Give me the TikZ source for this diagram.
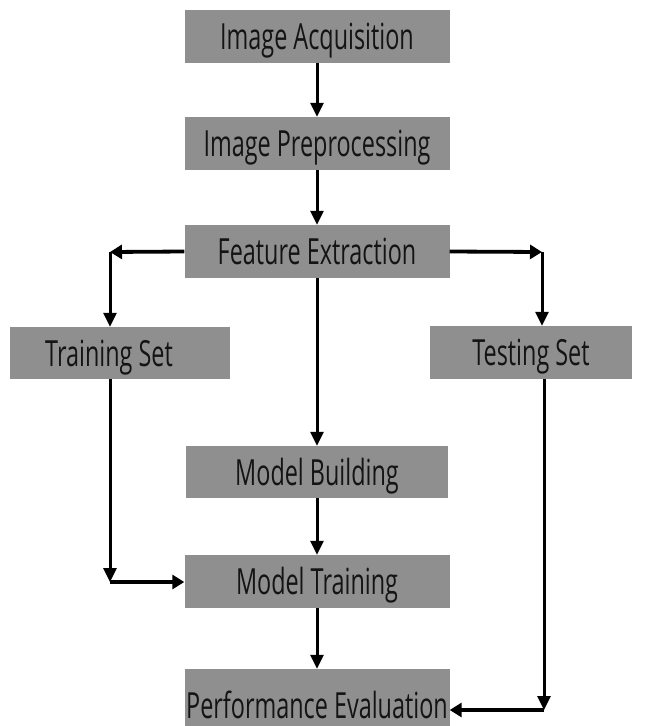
\documentclass[tikz,border=0pt]{standalone}
\usepackage{fontspec}
\setmainfont{Open Sans}[FakeStretch=0.65]
\usetikzlibrary{arrows.meta}
\definecolor{boxgray}{HTML}{8F8F8F}
\definecolor{ink}{HTML}{141414}
\begin{document}
\begin{tikzpicture}[x=1pt,y=-1pt,
  box/.style={fill=boxgray, inner sep=0pt, text=ink,
    font=\fontsize{36}{36}\selectfont, text height=26pt, text depth=0pt},
  conn/.style={line width=3pt, -{Triangle[length=14pt,width=13pt]}},
  hconn/.style={line width=3.8pt, -{Triangle[length=12pt,width=14pt]}}]
\useasboundingbox (0,0) rectangle (645,726);
\fill[white] (0,0) rectangle (645,726);

\node[box, minimum width=265pt, minimum height=53pt] (ia) at (317,36.5) {Image Acquisition};
\node[box, minimum width=265pt, minimum height=53pt] (ip) at (317,143.5) {Image Preprocessing};
\node[box, minimum width=265pt, minimum height=53pt] (fe) at (317,251.5) {Feature Extraction};
\node[box, minimum width=220pt, minimum height=52pt] (tr) at (120,353) {Training Set\kern22pt};
\node[box, minimum width=202pt, minimum height=53pt] (te) at (531,352.5) {Testing Set};
\node[box, minimum width=262pt, minimum height=52pt] (mb) at (317,472) {Model Building};
\node[box, minimum width=265pt, minimum height=53pt] (mt) at (317,581.5) {Model Training};
\node[box, minimum width=265pt, minimum height=72pt] (pe) at (317,705) {Performance Evaluation};

\coordinate (lc) at (110,252);
\coordinate (rc) at (542,252);
\coordinate (lb) at (110,582);
\coordinate (rb) at (544,710);

\draw[conn] (ia.south) -- (ip.north);
\draw[conn] (ip.south) -- (fe.north);
\draw[conn] (fe.south) -- (mb.north);
\draw[conn] (mb.south) -- (mt.north);
\draw[conn] (mt.south) -- (pe.north);

\draw[hconn] (fe.west) -- (lc);
\draw[conn] (lc) -- (lc |- tr.north);
\draw[hconn] (fe.east) -- (rc);
\draw[conn] (rc) -- (rc |- te.north);

\draw[conn] (lb |- tr.south) -- (lb);
\draw[hconn] (lb) -- (mt.west |- lb);
\draw[conn] (rb |- te.south) -- (rb);
\draw[hconn] (rb) -- (pe.east |- rb);
\end{tikzpicture}
\end{document}
